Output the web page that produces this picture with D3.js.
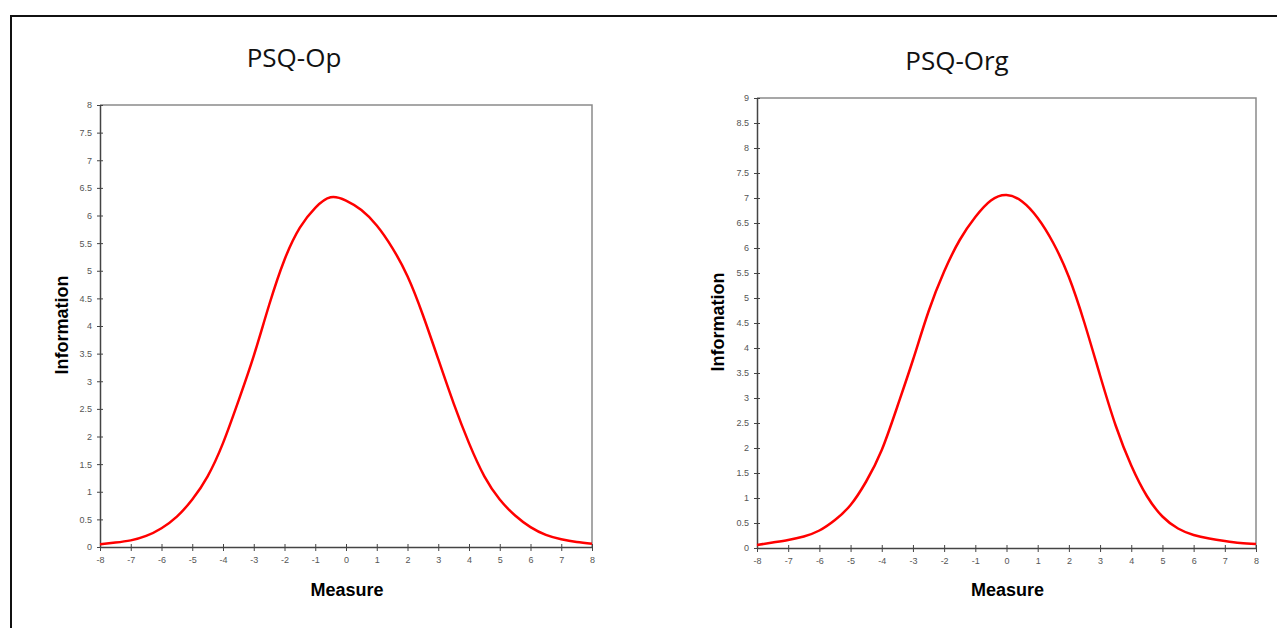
<!DOCTYPE html>
<html>
<head>
<meta charset="utf-8">
<script src="https://cdn.jsdelivr.net/npm/d3@7"></script>
<style>
  body { margin: 0; background: #fff; }
  svg { display: block; }
  .tick text { font-family: "Liberation Sans", Arial, sans-serif; font-size: 9px; fill: #555; }
</style>
</head>
<body>
<svg id="chart" width="1277" height="628"></svg>
<script>
// measure values (x), every half step
var measure = [-8, -7.5, -7, -6.5, -6, -5.5, -5, -4.5, -4, -3.5, -3, -2.5, -2, -1.5, -1, -0.5,
               0, 0.5, 1, 1.5, 2, 2.5, 3, 3.5, 4, 4.5, 5, 5.5, 6, 6.5, 7, 7.5, 8];

var infoOp = [0.05, 0.08, 0.12, 0.2, 0.34, 0.55, 0.86, 1.28, 1.88, 2.64, 3.46, 4.38, 5.2, 5.78, 6.14, 6.33,
              6.27, 6.1, 5.82, 5.42, 4.9, 4.2, 3.4, 2.6, 1.88, 1.28, 0.86, 0.57, 0.36, 0.22, 0.14, 0.09, 0.06];

var infoOrg = [0.06, 0.11, 0.16, 0.23, 0.35, 0.56, 0.86, 1.33, 1.96, 2.83, 3.76, 4.73, 5.53, 6.16, 6.62, 6.95,
               7.06, 6.93, 6.6, 6.1, 5.42, 4.5, 3.45, 2.45, 1.65, 1.04, 0.63, 0.39, 0.26, 0.19, 0.14, 0.1, 0.08];

var xTicks = [-8, -7, -6, -5, -4, -3, -2, -1, 0, 1, 2, 3, 4, 5, 6, 7, 8];
var yTicksOp = [0, 0.5, 1, 1.5, 2, 2.5, 3, 3.5, 4, 4.5, 5, 5.5, 6, 6.5, 7, 7.5, 8];
var yTicksOrg = [0, 0.5, 1, 1.5, 2, 2.5, 3, 3.5, 4, 4.5, 5, 5.5, 6, 6.5, 7, 7.5, 8, 8.5, 9];

var svg = d3.select("#chart");

// outer frame (top and left edges only show)
svg.append("path")
    .attr("d", "M11,628 V16 H1277")
    .attr("fill", "none")
    .attr("stroke", "#111")
    .attr("stroke-width", 2);

function drawPanel(opt) {
    var x = d3.scaleLinear().domain([-8, 8]).range([opt.left, opt.right]);
    var y = d3.scaleLinear().domain([0, opt.ymax]).range([opt.bottom, opt.top]);
    var g = svg.append("g");

    // grey top/right frame
    g.append("path")
        .attr("d", "M" + opt.left + "," + opt.top + " H" + opt.right + " V" + opt.bottom)
        .attr("fill", "none")
        .attr("stroke", "#8a8a8a")
        .attr("stroke-width", 1.5);

    var xAxis = g.append("g")
        .attr("transform", "translate(0," + opt.bottom + ")")
        .call(d3.axisBottom(x).tickValues(xTicks).tickSize(4).tickSizeOuter(0)
              .tickFormat(function (d) { return String(d); }));
    xAxis.selectAll(".tick line").attr("y1", -3).attr("stroke", "#444");
    xAxis.selectAll(".tick text").attr("y", 10);
    xAxis.select(".domain").attr("stroke", "#444").attr("stroke-width", 1.5);

    var yAxis = g.append("g")
        .attr("transform", "translate(" + opt.left + ",0)")
        .call(d3.axisLeft(y).tickValues(opt.yTicks).tickSize(3).tickSizeOuter(0)
              .tickFormat(function (d) { return String(d); }));
    yAxis.selectAll(".tick line").attr("x1", 3).attr("stroke", "#444");
    yAxis.selectAll(".tick text").attr("x", -8);
    yAxis.select(".domain").attr("stroke", "#444").attr("stroke-width", 1.5);

    var line = d3.line()
        .x(function (d, i) { return x(measure[i]); })
        .y(function (d) { return y(d); })
        .curve(d3.curveNatural);

    g.append("path")
        .datum(opt.values)
        .attr("d", line)
        .attr("fill", "none")
        .attr("stroke", "#ff0000")
        .attr("stroke-width", 2.5);

    g.append("text")
        .attr("x", opt.titleX).attr("y", opt.titleY)
        .attr("text-anchor", "middle")
        .style("font-family", "'Open Sans', sans-serif")
        .style("font-size", "26px")
        .style("fill", "#111")
        .text(opt.title);

    g.append("text")
        .attr("x", (opt.left + opt.right) / 2 + 1).attr("y", 596)
        .attr("text-anchor", "middle")
        .style("font-family", "'Liberation Sans', Arial, sans-serif")
        .style("font-weight", "bold")
        .style("font-size", "18px")
        .text("Measure");

    g.append("text")
        .attr("transform", "translate(" + opt.infoX + "," + opt.infoY + ") rotate(-90)")
        .attr("text-anchor", "middle")
        .style("font-family", "'Liberation Sans', Arial, sans-serif")
        .style("font-weight", "bold")
        .style("font-size", "18px")
        .text("Information");
}

drawPanel({ left: 100, right: 592, top: 105, bottom: 547, ymax: 8, yTicks: yTicksOp,
            values: infoOp, title: "PSQ-Op", titleX: 294, titleY: 67, infoX: 68, infoY: 325 });
drawPanel({ left: 757, right: 1256, top: 98, bottom: 548, ymax: 9, yTicks: yTicksOrg,
            values: infoOrg, title: "PSQ-Org", titleX: 957, titleY: 70, infoX: 724, infoY: 322 });
</script>
</body>
</html>
